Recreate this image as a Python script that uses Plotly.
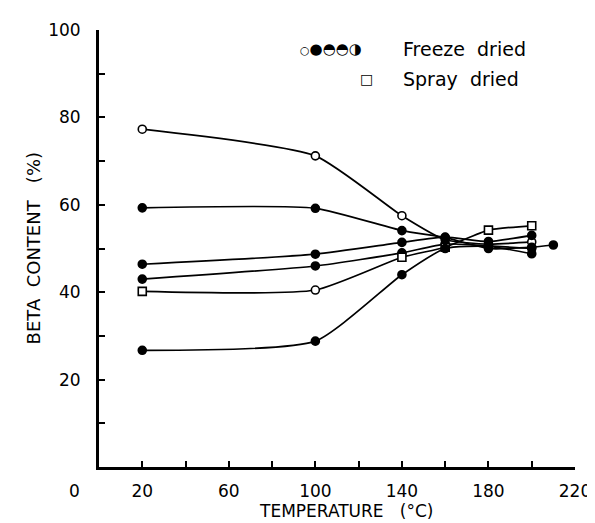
import plotly.graph_objects as go

# ---- data ----
temps = [20, 100, 140, 160, 180, 200]
temps_long = [20, 100, 140, 160, 180, 200, 210]
freeze_open = [77.3, 71.2, 57.5, 52.0, 51.0, 51.5]
freeze_a = [59.3, 59.2, 54.1, 52.5, 50.0, 50.3, 50.8]
freeze_b = [46.4, 48.7, 51.4, 52.6, 51.6, 53.0]
freeze_c = [43.0, 46.0, 49.0, 51.0, 50.6, 50.0]
spray = [40.2, 40.5, 48.0, 50.3, 54.2, 55.2]
freeze_d = [26.7, 28.8, 44.0, 50.0, 50.5, 48.8]

x_tick_labels = [20, 60, 100, 140, 180, 220]
x_minor_ticks = [40, 80, 120, 160, 200]
y_tick_labels = [20, 40, 60, 80, 100]
y_minor_ticks = [10, 30, 50, 70, 90]

W, H = 595, 523
L, R, T, B = 91, 25, 18, 64
FONT = "DejaVu Sans"
SP = "\u00a0"

fig = go.Figure()


def add(x, y, symbol, fill):
    fig.add_trace(go.Scatter(
        x=x, y=y, mode="lines+markers",
        line=dict(color="black", width=1.7, shape="spline", smoothing=0.55),
        marker=dict(symbol=symbol, size=8, color=fill,
                    line=dict(color="black", width=1.6)),
        showlegend=False, cliponaxis=False))


add(temps, freeze_open, "circle", "white")
add(temps_long, freeze_a, "circle", "black")
add(temps, freeze_b, "circle", "black")
add(temps, freeze_c, "circle", "black")
add(temps, spray, ["square", "circle", "square", "square", "square", "square"], "white")
add(temps, freeze_d, "circle", "black")

fig.update_xaxes(
    range=[0, 220], showline=True, linewidth=3, linecolor="black",
    showgrid=False, zeroline=False,
    tickvals=x_tick_labels, ticks="inside", ticklen=6, tickwidth=1.5, tickcolor="black",
    minor=dict(tickvals=x_minor_ticks, ticks="inside", ticklen=6, tickwidth=1.5, tickcolor="black"),
    tickfont=dict(family=FONT, size=17, color="black"), ticklabelstandoff=7)
fig.update_yaxes(
    range=[0, 100], showline=True, linewidth=3, linecolor="black",
    showgrid=False, zeroline=False,
    tickvals=y_tick_labels, ticks="inside", ticklen=6, tickwidth=1.5, tickcolor="black",
    minor=dict(tickvals=y_minor_ticks, ticks="inside", ticklen=6, tickwidth=1.5, tickcolor="black"),
    tickfont=dict(family=FONT, size=17, color="black"), ticklabelstandoff=12)

pw = W - L - R
ph = H - T - B


def px(xp):
    return (xp - L) / pw


def py(yp):
    return (H - B - yp) / ph


def note(xp, yp, text, size, xanchor="center", angle=0):
    return dict(x=px(xp), y=py(yp), xref="paper", yref="paper", text=text,
                showarrow=False, xanchor=xanchor, yanchor="middle", textangle=angle,
                font=dict(family=FONT, size=size, color="black"))


ann = [
    dict(x=0, y=0, xref="x", yref="y", text="0", showarrow=False, xshift=-25, yshift=-24,
         xanchor="center", yanchor="middle",
         font=dict(family=FONT, size=17, color="black")),
    note(340, 503, "TEMPERATURE" + SP * 3 + "(°C)", 17),
    note(25, 238, "BETA" + SP * 2 + "CONTENT" + SP * 3 + "(%)", 18, angle=-90),
    note(324, 37, "<span style='font-size:11px'>○</span>●◓◓◑", 15),
    note(395, 37, "Freeze" + SP * 2 + "dried", 19, xanchor="left"),
    note(360, 67, "□", 14),
    note(395, 67, "Spray" + SP * 2 + "dried", 19, xanchor="left"),
]

fig.update_layout(
    width=W, height=H, margin=dict(l=L, r=R, t=T, b=B),
    plot_bgcolor="white", paper_bgcolor="white",
    font=dict(family=FONT, color="black"),
    annotations=ann)

fig.write_html("out.html")
